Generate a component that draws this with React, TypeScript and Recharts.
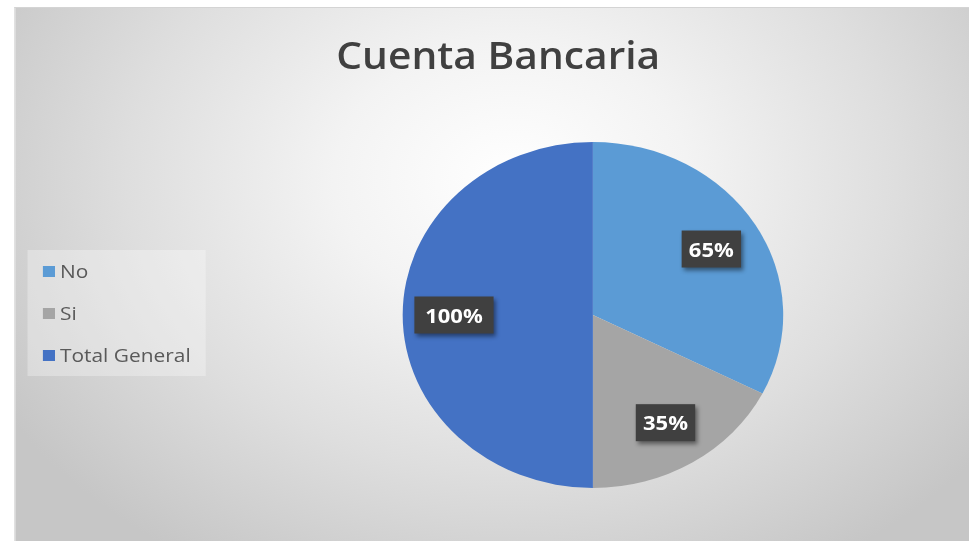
import { PieChart, Pie, Cell, Legend } from "recharts";

// values
const categories = ["No", "Si", "Total General"];
const values = [65, 35, 100];
const labels = ["65%", "35%", "100%"];

const COLORS = ["#5B9BD5", "#A5A5A5", "#4472C4"];

// the reference picture is stretched horizontally, so the whole chart is drawn
// narrower and scaled back out
const STRETCH = 1.1;
const W = 969 / STRETCH;
const H = 541;
const RADIAN = Math.PI / 180;

const data = categories.map((name, i) => ({
  name,
  value: values[i],
  label: labels[i],
}));

const BoxLabel = (props: any) => {
  const { cx, cy, midAngle, outerRadius, index } = props;
  const r = outerRadius * 0.73;
  const x = cx + r * Math.cos(-midAngle * RADIAN);
  const y = cy + r * Math.sin(-midAngle * RADIAN);
  const text = labels[index];
  const w = text.length * 18;
  const h = 37;
  return (
    <g>
      <rect
        x={x - w / 2}
        y={y - h / 2}
        width={w}
        height={h}
        fill="#404040"
        style={{ filter: "drop-shadow(2px 3px 2px rgba(0,0,0,0.45))" }}
      />
      <text
        x={x}
        y={y}
        fill="#ffffff"
        textAnchor="middle"
        dominantBaseline="central"
        fontFamily="'Open Sans', sans-serif"
        fontWeight={700}
        fontSize={20}
      >
        {text}
      </text>
    </g>
  );
};

const LegendBox = () => (
  <div
    style={{
      width: 162,
      height: 126,
      background: "rgba(255,255,255,0.3)",
      boxSizing: "border-box",
    }}
  >
    {categories.map((c, i) => (
      <div
        key={c}
        style={{
          display: "flex",
          alignItems: "center",
          height: 42,
          fontFamily: "'Open Sans', sans-serif",
          fontSize: 19,
          color: "#595959",
        }}
      >
        <span
          style={{
            display: "inline-block",
            width: 11,
            height: 11,
            background: COLORS[i],
            marginLeft: 14,
            marginRight: 5,
          }}
        />
        {c}
      </div>
    ))}
  </div>
);

export default function App() {
  return (
    <div
      style={{
        position: "absolute",
        left: 0,
        top: 0,
        width: W,
        height: H,
        transform: `scaleX(${STRETCH})`,
        transformOrigin: "0 0",
        background: "#ffffff",
      }}
    >
      <div
        style={{
          position: "absolute",
          left: 12.7,
          top: 7,
          width: W - 12.7,
          height: H - 7,
          borderLeft: "1px solid #d4d4d4",
          borderTop: "1px solid #d4d4d4",
          boxSizing: "border-box",
          background:
            "radial-gradient(ellipse 62% 85% at 52% 32%, #ffffff 0%, #f3f3f3 30%, #dedede 65%, #c6c6c6 100%)",
        }}
      />
      <div
        style={{
          position: "absolute",
          left: 0,
          width: W,
          top: 31,
          textAlign: "center",
          fontFamily: "'Open Sans', sans-serif",
          fontWeight: 600,
          fontSize: 37,
          color: "#404040",
          lineHeight: "48px",
          paddingLeft: 25,
          boxSizing: "border-box",
        }}
      >
        Cuenta Bancaria
      </div>
      <div style={{ position: "absolute", left: 0, top: 0 }}>
        <PieChart
          width={W}
          height={H}
          margin={{ top: 0, right: 0, bottom: 0, left: 0 }}
        >
          <Pie
            data={data}
            dataKey="value"
            nameKey="name"
            cx={539}
            cy={315}
            outerRadius={173}
            startAngle={90}
            endAngle={-270}
            stroke="none"
            labelLine={false}
            label={BoxLabel}
            isAnimationActive={false}
          >
            {data.map((d, i) => (
              <Cell key={d.name} fill={COLORS[i]} />
            ))}
          </Pie>
          <Legend
            layout="vertical"
            content={<LegendBox />}
            wrapperStyle={{ left: 24.5, top: 250, width: 162, height: 126 }}
          />
        </PieChart>
      </div>
    </div>
  );
}
